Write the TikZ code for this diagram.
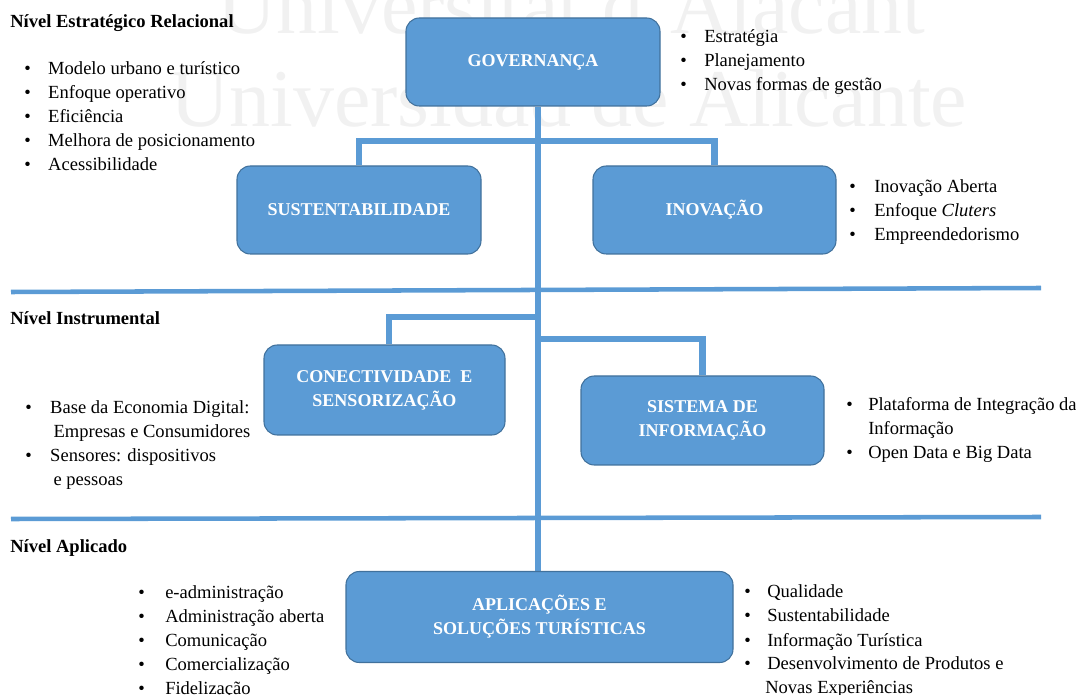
\documentclass[tikz,border=0pt]{standalone}
\usepackage{fontspec}
\setmainfont{Liberation Serif}
\usepackage{array}
\definecolor{boxblue}{HTML}{5B9BD5}
\definecolor{boxedge}{HTML}{41719C}
\definecolor{wmgray}{gray}{0.945}
\pgfdeclarelayer{backdrop}
\pgfdeclarelayer{links}
\pgfsetlayers{backdrop,links,main}
% bullet list: bullet column of width #1, then the item text
\newcommand\itemlist[2]{\begin{tabular}[t]{@{}p{#1}@{}l@{}}#2\end{tabular}}
\begin{document}
\begin{tikzpicture}[x=0.75pt,y=-0.75pt,line join=miter,
  box/.style={draw=boxedge,line width=0.8pt,fill=boxblue,rounded corners=10pt,
    text=white,font=\bfseries\fontsize{13.5}{18}\selectfont,align=center,inner sep=0pt},
  conn/.style={draw=boxblue,line width=5.1pt},
  divider/.style={draw=boxblue,line width=3.4pt},
  listtext/.style={anchor=base west,inner sep=0pt,font=\fontsize{13.9}{18}\selectfont},
  heading/.style={anchor=base west,inner sep=0pt,font=\bfseries\fontsize{13.9}{18}\selectfont},
  wmark/.style={anchor=base west,inner sep=0pt,text=wmgray,font=\fontsize{61.5}{70}\selectfont}]
\useasboundingbox (0,0) rectangle (1076,695);
\clip (0,0) rectangle (1076,695);

% boxes
\node[box,minimum width=190.5pt,minimum height=66pt] (gov) at (533,62) {GOVERNANÇA};
\node[box,minimum width=183pt,minimum height=66pt] (sus) at (359,210) {SUSTENTABILIDADE};
\node[box,minimum width=182.25pt,minimum height=66pt] (ino) at (714.5,210) {INOVAÇÃO};
\node[box,minimum width=180.75pt,minimum height=67.5pt] (con) at (384.5,390) {CONECTIVIDADE\ \ E\\SENSORIZAÇÃO};
\node[box,minimum width=182.25pt,minimum height=66.75pt] (sis) at (702.5,420.5) {SISTEMA DE\\INFORMAÇÃO};
\node[box,minimum width=290.25pt,minimum height=68.25pt] (apl) at (539.5,617) {APLICAÇÕES E\\SOLUÇÕES TURÍSTICAS};

% background watermark and level dividers
\begin{pgfonlayer}{backdrop}
\node[wmark] (wm1) at (217,34) {Universitat d'Alacant};
\node[wmark] (wm2) at (170,127) {Universidad de Alicante};
\coordinate (d1w) at (11,292);
\coordinate (d1e) at (1041,288);
\coordinate (d2w) at (11,519);
\coordinate (d2e) at (1041,517);
\draw[divider] (d1w) -- (d1e);
\draw[divider] (d2w) -- (d2e);
\end{pgfonlayer}

% connectors (behind the boxes)
\begin{pgfonlayer}{links}
\coordinate (tk) at (538,0);
\coordinate (j1) at (538,141);
\coordinate (j2) at (538,317);
\coordinate (j3) at (538,339);
\draw[conn] (gov.south -| tk) -- (apl.north -| tk);
\draw[conn] (sus.north) |- (j1) -| (ino.north);
\draw[conn] (j2) -| ([xshift=3.4pt]con.north);
\draw[conn] (j3) -| (sis.north);
\end{pgfonlayer}

% level headings
\node[heading] (h1) at (10,28) {Nível Estratégico Relacional};
\node[heading] (h2) at (10,325) {Nível Instrumental};
\node[heading] (h3) at (10,552) {Nível Aplicado};

% item lists
\node[listtext] (estlist) at (24,75) {\itemlist{18pt}{%
  \textbullet & Modelo urbano e turístico\\
  \textbullet & Enfoque operativo\\
  \textbullet & Eficiência\\
  \textbullet & Melhora de posicionamento\\
  \textbullet & Acessibilidade}};
\node[listtext] (govlist) at (680,43) {\itemlist{18pt}{%
  \textbullet & Estratégia\\
  \textbullet & Planejamento\\
  \textbullet & Novas formas de gestão}};
\node[listtext] (inolist) at (849,193) {\itemlist{18.75pt}{%
  \textbullet & Inovação Aberta\\
  \textbullet & Enfoque \textit{Cluters}\\
  \textbullet & Empreendedorismo}};
\node[listtext] (conlist) at (25,414) {\itemlist{18.75pt}{%
  \textbullet & Base da Economia Digital:\\
              & \hspace{2.5pt}Empresas e Consumidores\\
  \textbullet & Sensores: dispositivos\\
              & \hspace{2.5pt}e pessoas}};
\node[listtext] (sislist) at (846,411) {\itemlist{16.5pt}{%
  \textbullet & Plataforma de Integração da\\
              & Informação\\
  \textbullet & Open Data e Big Data}};
\node[listtext] (apllistl) at (138,599) {\itemlist{20.25pt}{%
  \textbullet & e-administração\\
  \textbullet & Administração aberta\\
  \textbullet & Comunicação\\
  \textbullet & Comercialização\\
  \textbullet & Fidelização}};
\node[listtext] (apllistr) at (744,598) {\itemlist{17.25pt}{%
  \textbullet & Qualidade\\
  \textbullet & Sustentabilidade\\
  \textbullet & Informação Turística\\
  \textbullet & Desenvolvimento de Produtos e\\
              & \hspace{-1.5pt}Novas Experiências}};
\end{tikzpicture}
\end{document}
